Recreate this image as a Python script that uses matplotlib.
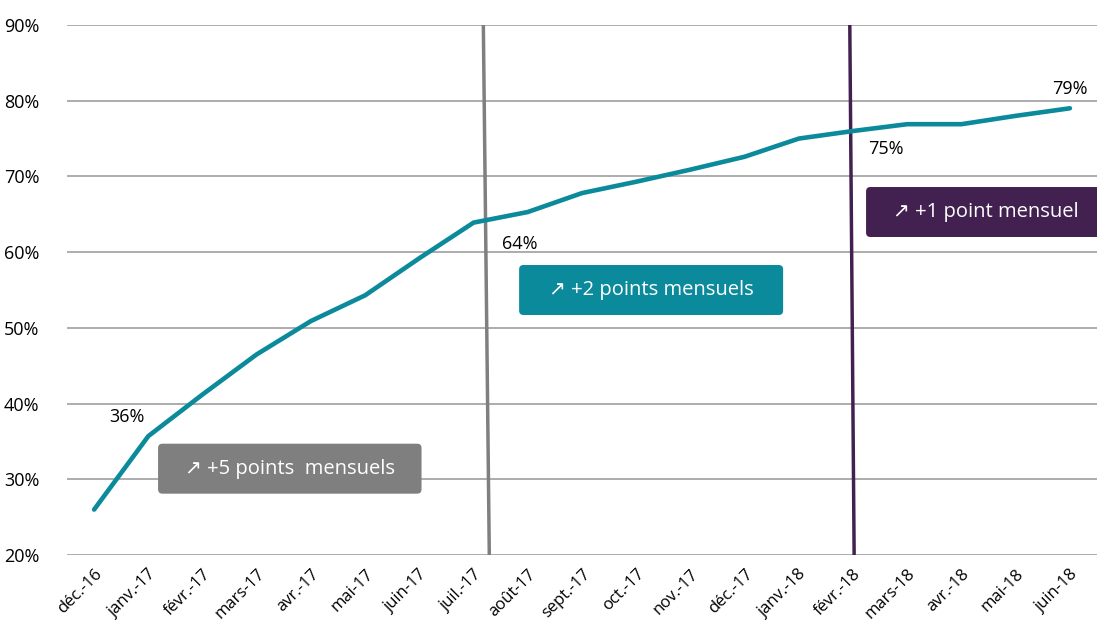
import matplotlib.pyplot as plt
from matplotlib.patches import FancyBboxPatch

# données
mois = ['déc.-16', 'janv.-17', 'févr.-17', 'mars-17', 'avr.-17', 'mai-17', 'juin-17',
        'juil.-17', 'août-17', 'sept.-17', 'oct.-17', 'nov.-17', 'déc.-17', 'janv.-18',
        'févr.-18', 'mars-18', 'avr.-18', 'mai-18', 'juin-18']
taux = [26, 35.7, 41.2, 46.5, 50.9, 54.3, 59.2, 63.9, 65.3, 67.8, 69.3, 70.9, 72.6,
        75.0, 76.0, 76.9, 76.9, 78.0, 79.0]
etiquettes = {1: '36%', 7: '64%', 14: '75%', 18: '79%'}
phases = ['\u2197 +5 points  mensuels', '\u2197 +2 points mensuels', '\u2197 +1 point mensuel']

plt.rcParams['font.family'] = ['Open Sans', 'DejaVu Sans']

teal = '#0B8A9B'
gris = '#7F7F7F'
violet = '#42204F'

fig = plt.figure(figsize=(10.97, 6.30), dpi=100)
ax = fig.add_axes([67 / 1097, 1 - 555 / 630, 1 - 67 / 1097, 530 / 630])

x = list(range(len(mois)))
ax.set_xlim(-0.5, len(mois) - 0.5)
ax.set_ylim(20, 90)

# grille
for v in range(20, 91, 10):
    ax.axhline(v, color='#A6A6A6', lw=1.3, zorder=0)
for s in ax.spines.values():
    s.set_visible(False)

# séparateurs de phase (légèrement inclinés)
ax.plot([7.18, 7.29], [90, 20], color=gris, lw=2.5, zorder=2)
ax.plot([13.94, 14.02], [90, 20], color=violet, lw=2.5, zorder=2)

ax.plot(x, taux, color=teal, lw=3.3, zorder=3, solid_capstyle='round')

# étiquettes de valeurs
ax.text(0.6, 37.0, etiquettes[1], fontsize=13, ha='center', va='bottom')
ax.text(7.85, 62.3, etiquettes[7], fontsize=13, ha='center', va='top')
ax.text(14.6, 74.8, etiquettes[14], fontsize=13, ha='center', va='top')
ax.text(18.0, 80.3, etiquettes[18], fontsize=13, ha='center', va='bottom')

# encadrés
boites = [(1.18, 28.1, 4.86, 6.6, gris), (7.84, 51.7, 4.87, 6.6, teal),
          (14.24, 62.0, 4.6, 6.6, violet)]
for (bx, by, bw, bh, c), txt in zip(boites, phases):
    ax.add_patch(FancyBboxPatch((bx, by), bw, bh, boxstyle='round,pad=0,rounding_size=0.08',
                                facecolor=c, edgecolor='none', zorder=4,
                                mutation_aspect=7.2))
    cx = bx + bw / 2 if c != violet else 16.45
    ax.text(cx, by + bh / 2, txt, color='white', fontsize=14.5, ha='center',
            va='center', zorder=5)

ax.set_xticks(x)
ax.set_xticklabels(mois, rotation=45, ha='right', rotation_mode='anchor', fontsize=12)
ax.set_yticks(range(20, 91, 10))
ax.set_yticklabels([f'{v}%' for v in range(20, 91, 10)], fontsize=13)
ax.tick_params(length=0, pad=8)
ax.tick_params(axis='y', pad=20)

fig.savefig('out.png', dpi=100)
